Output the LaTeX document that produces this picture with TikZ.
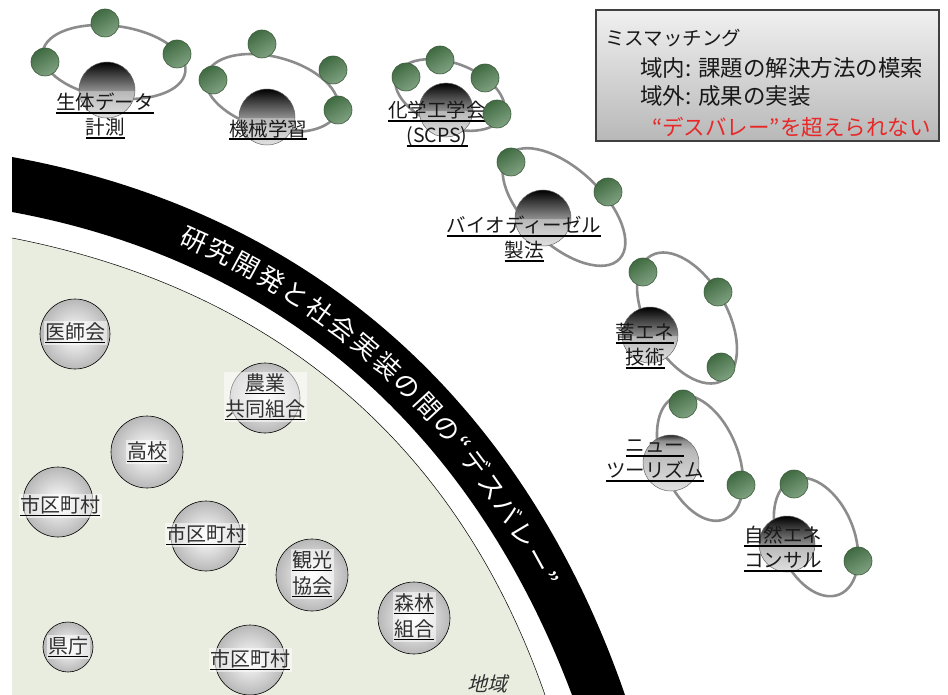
\documentclass[tikz,border=0pt]{standalone}
\usepackage{fontspec}
\setmainfont{Noto Sans CJK JP}
\newfontfamily\slantjp{Noto Sans CJK JP}[FakeSlant=0.25]
\usetikzlibrary{decorations.text}
\definecolor{regiongreen}{HTML}{E9EDDF}
\definecolor{ballA}{HTML}{3F6A40}
\definecolor{ballB}{HTML}{80A282}
\definecolor{ballline}{HTML}{3A5A3A}
\definecolor{orbitgray}{HTML}{8C8C8C}
\definecolor{labeltext}{HTML}{303030}
\definecolor{warnred}{HTML}{E82828}
\definecolor{boxtop}{HTML}{F0F0F0}
\definecolor{boxbottom}{HTML}{B8B8B8}
\pgfdeclareverticalshading{darksphere}{100bp}{color(0bp)=(white!88!black); color(25bp)=(white!88!black); color(49bp)=(white!72!black); color(50bp)=(black!45); color(66bp)=(black!80); color(75bp)=(black); color(100bp)=(black)}
\pgfdeclareverticalshading{lightsphere}{100bp}{color(0bp)=(white!88!black); color(25bp)=(white!88!black); color(62bp)=(white!72!black); color(70bp)=(black!45); color(75bp)=(black!85); color(100bp)=(black!85)}
\newcommand\ulbox[1]{\setbox0=\hbox{#1}\rlap{\color{black}\rule[-4pt]{\wd0}{1.8pt}}\box0}
\begin{document}
\begin{tikzpicture}[x=1pt,y=-1pt,
  orbit/.style={draw=orbitgray, line width=2.6pt},
  greenball/.style={circle, minimum size=28pt, inner sep=0pt, draw=ballline, line width=0.6pt,
    top color=ballA, bottom color=ballB, shading angle=30},
  techsphere/.style={circle, minimum size=56pt, inner sep=0pt, draw=black!60, line width=0.5pt, shade, shading=darksphere},
  techsphereL/.style={circle, minimum size=56pt, inner sep=0pt, draw=black!60, line width=0.5pt, shade, shading=lightsphere},
  techlabel/.style={text=black!90, font=\fontsize{19.5}{25}\selectfont, align=center, inner sep=0pt},
  orgball/.style={circle, inner sep=0pt, draw=black, line width=0.6pt, inner color=white, outer color=black!28},
  orglabel/.style={fill=white, fill opacity=0.55, text opacity=1, text=labeltext,
    font=\fontsize{20}{26}\selectfont, align=center, inner sep=1.5pt},
  boxtext/.style={anchor=west, inner sep=0pt, text=black!90}
]
\useasboundingbox (0,0) rectangle (948,695);
\fill[white] (0,0) rectangle (948,695);

% local region
\fill[regiongreen] (12,238) .. controls (280,290) and (460,450) .. (545,695) -- (12,695) -- cycle;
\draw[black, line width=0.5pt] (12,238) .. controls (280,290) and (460,450) .. (545,695);

% valley band
\fill[black] (12,157) .. controls (330,215) and (530,420) .. (625,695) -- (572,695)
  .. controls (480,450) and (300,265) .. (12,212) -- cycle;
\path[decorate, decoration={text along path,
  text align={fit to path, left indent=178pt, right indent=120pt}, raise=-9.5pt,
  text={|\fontsize{26}{26}\selectfont\color{white}|研究開発と社会実装の間の“デスバレー”}}]
  (12,184) .. controls (315,240) and (505,435) .. (598,695);

% organisations in the region
\node[orgball, minimum size=70pt] (ishikai) at (75,334) {};
\node[orglabel] (ishikaiL) at (75,333) {\ulbox{医師会}};
\node[orgball, minimum size=70pt] (nogyo) at (265,398) {};
\node[orglabel] (nogyoL) at (265,397) {\ulbox{農業}\\\ulbox{共同組合}};
\node[orgball, minimum size=72pt] (koko) at (147,452) {};
\node[orglabel] (kokoL) at (147,452) {\ulbox{高校}};
\node[orgball, minimum size=70pt] (shikuA) at (58,502) {};
\node[orglabel] (shikuAL) at (60,506) {\ulbox{市区町村}};
\node[orgball, minimum size=70pt] (shikuB) at (206,536) {};
\node[orglabel] (shikuBL) at (206,535) {\ulbox{市区町村}};
\node[orgball, minimum size=72pt] (kanko) at (312,575) {};
\node[orglabel] (kankoL) at (312,574) {\ulbox{観光}\\\ulbox{協会}};
\node[orgball, minimum size=72pt] (shinrin) at (414,618) {};
\node[orglabel] (shinrinL) at (414,617) {\ulbox{森林}\\\ulbox{組合}};
\node[orgball, minimum size=50pt] (kencho) at (68,647) {};
\node[orglabel] (kenchoL) at (68,647) {\ulbox{県庁}};
\node[orgball, minimum size=70pt] (shikuC) at (250,660) {};
\node[orglabel] (shikuCL) at (250,660) {\ulbox{市区町村}};
\node[text=labeltext, font=\slantjp\fontsize{20}{20}\selectfont] (chiiki) at (487,684) {地域};

% cluster 1
\draw[orbit, rotate around={-8:(114,62)}] (114,62) ellipse [x radius=72, y radius=36];
\node[techsphere] (s1) at (107,90) {};
\node[greenball] (b11) at (105,23) {};
\node[greenball] (b12) at (45,62) {};
\node[greenball] (b13) at (177,54) {};
\node[techlabel] (l1) at (105,116) {\ulbox{生体データ}\\\ulbox{計測}};

% cluster 2
\draw[orbit, rotate around={-15:(272,93)}] (272,93) ellipse [x radius=68, y radius=36];
\node[techsphere] (s2) at (267,117) {};
\node[greenball] (b21) at (262,44) {};
\node[greenball] (b22) at (213,80) {};
\node[greenball] (b23) at (333,70) {};
\node[greenball] (b24) at (338,110) {};
\node[techlabel] (l2) at (268,130) {\ulbox{機械学習}};

% cluster 3
\draw[orbit, rotate around={-20:(450,95)}] (450,95) ellipse [x radius=57, y radius=32];
\node[techsphere, minimum size=54pt] (s3) at (446,110) {};
\node[greenball] (b31) at (406,77) {};
\node[greenball] (b32) at (440,60) {};
\node[greenball] (b33) at (485,78) {};
\node[techlabel] (l3) at (437,124) {\ulbox{化学工学会}\\\ulbox{(SCPS)}};
\node[greenball] (b34) at (497,114) {};

% cluster 4
\draw[orbit, rotate around={-43:(564,207)}] (564,207) ellipse [x radius=76, y radius=38];
\node[techsphere] (s4) at (543,218) {};
\node[greenball] (b41) at (511,162) {};
\node[greenball] (b42) at (608,192) {};
\node[techlabel] (l4) at (524,239) {\ulbox{バイオディーゼル}\\\ulbox{製法}};

% cluster 5
\draw[orbit, rotate around={-60:(687,318)}] (687,318) ellipse [x radius=72, y radius=40];
\node[techsphere] (s5) at (650,335) {};
\node[greenball] (b51) at (643,272) {};
\node[greenball] (b52) at (718,292) {};
\node[greenball] (b53) at (721,367) {};
\node[techlabel] (l5) at (645,346) {\ulbox{蓄エネ}\\\ulbox{技術}};

% cluster 6
\draw[orbit, rotate around={-68:(700,458)}] (700,458) ellipse [x radius=66, y radius=38];
\node[techsphereL] (s6) at (671,463) {};
\node[greenball] (b61) at (683,404) {};
\node[greenball] (b62) at (741,485) {};
\node[techlabel] (l6) at (655,461) {\ulbox{ニュー}\\\ulbox{ツーリズム}};

% cluster 7
\draw[orbit, rotate around={-68:(816,537)}] (816,537) ellipse [x radius=62, y radius=38];
\node[techsphere] (s7) at (787,544) {};
\node[greenball] (b71) at (794,484) {};
\node[greenball] (b72) at (858,561) {};
\node[techlabel] (l7) at (783,549) {\ulbox{自然エネ}\\\ulbox{コンサル}};

% legend box
\node[draw=black!75, line width=1.2pt, top color=boxtop, bottom color=boxbottom,
  minimum width=343pt, minimum height=131pt, inner sep=0pt] (legend) at (767.5,75.5) {};
\node[boxtext, font=\fontsize{19.5}{20}\selectfont] (m1) at (605,38) {ミスマッチング};
\node[boxtext, font=\fontsize{22.5}{23}\selectfont] (m2) at (640,68) {域内: 課題の解決方法の模索};
\node[boxtext, font=\fontsize{22.5}{23}\selectfont] (m3) at (640,96) {域外: 成果の実装};
\node[boxtext, font=\fontsize{21.5}{22}\selectfont, text=warnred] (m4) at (652,127) {“デスバレー”を超えられない};
\end{tikzpicture}
\end{document}
